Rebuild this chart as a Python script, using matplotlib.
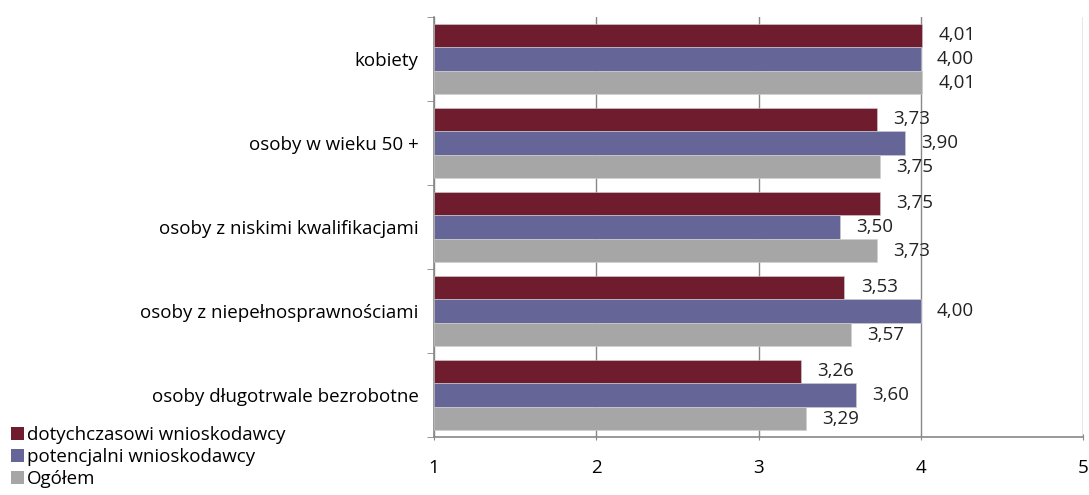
import numpy as np
import matplotlib.pyplot as plt
from matplotlib.patches import Patch

plt.rcParams['font.family'] = ['Open Sans', 'DejaVu Sans']

kategorie = ['kobiety', 'osoby w wieku 50 +', 'osoby z niskimi kwalifikacjami',
             'osoby z niepełnosprawnościami', 'osoby długotrwale bezrobotne']
dotychczasowi = [4.01, 3.73, 3.75, 3.53, 3.26]
potencjalni = [4.00, 3.90, 3.50, 4.00, 3.60]
ogolem = [4.01, 3.75, 3.73, 3.57, 3.29]
serie = ['dotychczasowi wnioskodawcy', 'potencjalni wnioskodawcy', 'Ogółem']
kolory = ['#6E1C2E', '#656598', '#A6A6A6']

fs = 13.5

fig = plt.figure(figsize=(10.89, 4.95), dpi=100)
ax = fig.add_axes([434/1089, 1 - 437/495, (1083-434)/1089, 420/495])

y = np.arange(len(kategorie))
h = 0.28
dane = [dotychczasowi, potencjalni, ogolem]
for i, (vals, kol) in enumerate(zip(dane, kolory)):
    pos = y + (i - 1) * h
    ax.barh(pos, np.array(vals) - 1, left=1, height=h, color=kol,
            edgecolor='#d0d0d0', linewidth=0.4, zorder=3)
    for p, v in zip(pos, vals):
        ax.text(v + 0.1, p, f'{v:.2f}'.replace('.', ','), va='center', ha='left',
                fontsize=fs, color='#222222', zorder=4)

ax.set_xlim(1, 5)
ax.set_ylim(len(kategorie) - 0.5, -0.5)
ax.set_xticks([1, 2, 3, 4, 5])
ax.set_xticklabels(['1', '2', '3', '4', '5'], fontsize=fs)
ax.set_yticks(y)
ax.set_yticklabels(kategorie, fontsize=fs)
ax.set_yticks(np.arange(len(kategorie) + 1) - 0.5, minor=True)
ax.tick_params(axis='y', which='major', length=0, pad=11)
ax.tick_params(axis='y', which='minor', length=5, color='#888888', direction='out')
ax.tick_params(axis='x', length=5, color='#888888', direction='inout', pad=13)
ax.grid(axis='x', color='#888888', linewidth=1, zorder=0)
for s in ['top', 'right']:
    ax.spines[s].set_visible(False)
for s in ['left', 'bottom']:
    ax.spines[s].set_color('#888888')
    ax.spines[s].set_linewidth(1.2)

uchwyty = [Patch(facecolor=k, edgecolor='none') for k in kolory]
fig.legend(uchwyty, serie, loc='upper left', bbox_to_anchor=(0.010, 1 - 426/495),
           frameon=False, fontsize=fs, handlelength=0.72, handleheight=0.72,
           handletextpad=0.15, labelspacing=0.22, borderpad=0, borderaxespad=0)

fig.savefig('out.png', dpi=100)
